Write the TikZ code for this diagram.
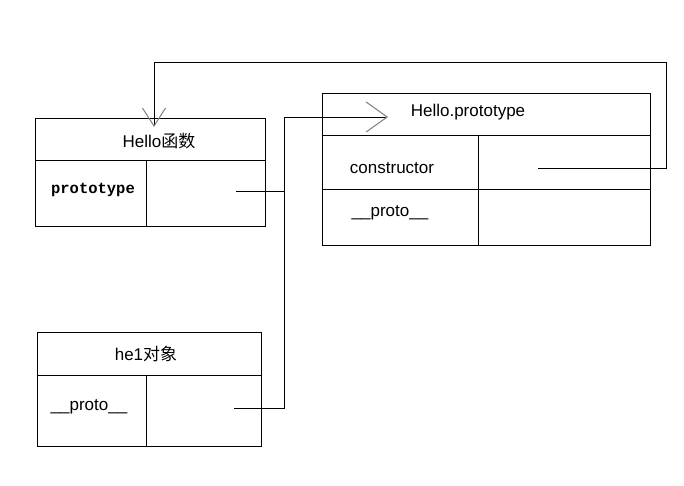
\documentclass[tikz,border=0pt]{standalone}
\usepackage{fontspec}
\setmainfont{Liberation Sans}
\newfontfamily\cjk{Noto Sans CJK SC}
\newfontfamily\monob{Liberation Mono}
\usetikzlibrary{arrows.meta}
\begin{document}
\begin{tikzpicture}[x=1pt,y=-1pt,
  cell/.style={draw,line width=1pt,anchor=north west,inner sep=0pt,outer sep=0pt},
  lbl/.style={inner sep=0pt,font=\fontsize{17}{20}\selectfont},
  monolbl/.style={inner sep=0pt,font=\monob\bfseries\fontsize{15.5}{18}\selectfont},
  conn/.style={line width=1pt},
  barbA/.style={-{Straight Barb[length=21pt,width=30pt,line width=1pt,color=gray]}},
  barbB/.style={-{Straight Barb[length=18pt,width=23pt,line width=1pt,color=gray]}}]
\useasboundingbox (0,0) rectangle (684,485);
\fill[white] (0,0) rectangle (684,485);

% Hello function box
\node[cell,minimum width=230pt,minimum height=42pt] (fh) at (35,118) {};
\node[cell,minimum width=111pt,minimum height=66pt] (fk) at (35,160) {};
\node[cell,minimum width=119pt,minimum height=66pt] (fv) at (146,160) {};

% Hello.prototype box
\node[cell,minimum width=328pt,minimum height=42pt] (ph) at (322,93) {};
\node[cell,minimum width=156pt,minimum height=54pt] (pk1) at (322,135) {};
\node[cell,minimum width=172pt,minimum height=54pt] (pv1) at (478,135) {};
\node[cell,minimum width=156pt,minimum height=56pt] (pk2) at (322,189) {};
\node[cell,minimum width=172pt,minimum height=56pt] (pv2) at (478,189) {};

% he1 object box
\node[cell,minimum width=224pt,minimum height=43pt] (oh) at (37,332) {};
\node[cell,minimum width=109pt,minimum height=71pt] (ok) at (37,375) {};
\node[cell,minimum width=115pt,minimum height=71pt] (ov) at (146,375) {};

% labels
\node[lbl] (t1) at (159,141) {Hello{\cjk 函数}};
\node[monolbl] (t2) at (93,190) {prototype};
\node[lbl] (t3) at (468,112) {Hello.prototype};
\node[lbl] (t4) at (392,168) {constructor};
\node[lbl] (t5) at (390,213) {\_\_proto\_\_};
\node[lbl] (t6) at (146,354) {he1{\cjk 对象}};
\node[lbl] (t7) at (89,407) {\_\_proto\_\_};

% connector coordinates
\coordinate (a1) at (236,191);
\coordinate (a2) at (234,408);
\coordinate (j) at (284,117);
\coordinate (tipP) at (388,117);
\coordinate (c1) at (538,168);
\coordinate (c2) at (666,168);
\coordinate (c3) at (666,62);
\coordinate (c4) at (154,62);
\coordinate (tipF) at (154,127);

\draw[conn,barbA] (a2) -| (j) -- (tipP);
\draw[conn] (a1) -- (a1 -| j);
\draw[conn,barbB] (c1) -- (c2) -- (c3) -- (c4) -- (tipF);
\end{tikzpicture}
\end{document}
